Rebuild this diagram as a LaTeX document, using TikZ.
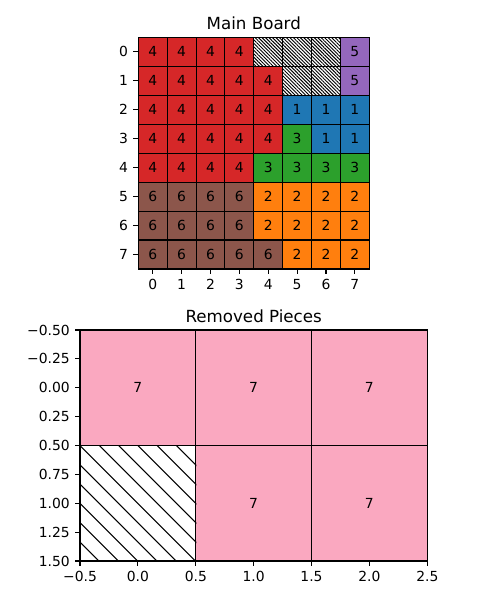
\documentclass[tikz,border=0pt]{standalone}
\usepackage{fontspec}
\setmainfont{DejaVu Sans}
\usetikzlibrary{patterns.meta}
\definecolor{piecered}{RGB}{214,39,40}
\definecolor{pieceblue}{RGB}{31,119,180}
\definecolor{piecegreen}{RGB}{44,160,44}
\definecolor{pieceorange}{RGB}{255,127,14}
\definecolor{piecepurple}{RGB}{148,103,189}
\definecolor{piecebrown}{RGB}{140,86,75}
\definecolor{piecepink}{RGB}{250,168,192}

\begin{document}
\begin{tikzpicture}[x=0.02cm, y=-0.02cm]
  \tikzset{
    cell/.style={
      draw,
      line width=0.6pt,
      minimum width=0.5775cm,
      minimum height=0.5792cm,
      inner sep=0pt,
      anchor=center,
      font=\fontsize{7.9}{9}\selectfont
    },
    piece1/.style={cell, fill=pieceblue},
    piece2/.style={cell, fill=pieceorange},
    piece3/.style={cell, fill=piecegreen},
    piece4/.style={cell, fill=piecered},
    piece5/.style={cell, fill=piecepurple},
    piece6/.style={cell, fill=piecebrown},
    empty/.style={
      cell,
      pattern={Lines[angle=-45, distance=1.4pt, line width=0.55pt]}
    },
    bigcell/.style={
      draw,
      line width=0.6pt,
      minimum width=2.3154cm,
      minimum height=2.31cm,
      inner sep=0pt,
      anchor=center,
      font=\fontsize{7.9}{9}\selectfont
    },
    removed/.style={bigcell, fill=piecepink},
    bigempty/.style={bigcell},
    hatch/.style={line width=0.6pt},
    spine/.style={line width=0.63pt},
    tick/.style={line width=0.63pt},
    ticklabel/.style={
      inner sep=0pt,
      font=\fontsize{7.9}{9}\selectfont
    },
    title/.style={
      inner sep=0pt,
      anchor=base,
      font=\fontsize{9.5}{11}\selectfont
    }
  }
  \useasboundingbox (0,0) rectangle (500,600);

  % Main board title
  \node[title] (maintitle) at (253.8, 29) {Main Board};

  % Row 0
  \node[piece4] at (152.74, 51.78) (cell00) {4};
  \node[piece4] at (181.61, 51.78) (cell01) {4};
  \node[piece4] at (210.49, 51.78) (cell02) {4};
  \node[piece4] at (239.36, 51.78) (cell03) {4};
  \node[empty]  at (268.24, 51.78) (cell04) {};
  \node[empty]  at (297.11, 51.78) (cell05) {};
  \node[empty]  at (325.99, 51.78) (cell06) {};
  \node[piece5] at (354.86, 51.78) (cell07) {5};
  % Row 1
  \node[piece4] at (152.74, 80.74) (cell10) {4};
  \node[piece4] at (181.61, 80.74) (cell11) {4};
  \node[piece4] at (210.49, 80.74) (cell12) {4};
  \node[piece4] at (239.36, 80.74) (cell13) {4};
  \node[piece4] at (268.24, 80.74) (cell14) {4};
  \node[empty]  at (297.11, 80.74) (cell15) {};
  \node[empty]  at (325.99, 80.74) (cell16) {};
  \node[piece5] at (354.86, 80.74) (cell17) {5};
  % Row 2
  \node[piece4] at (152.74, 109.7) (cell20) {4};
  \node[piece4] at (181.61, 109.7) (cell21) {4};
  \node[piece4] at (210.49, 109.7) (cell22) {4};
  \node[piece4] at (239.36, 109.7) (cell23) {4};
  \node[piece4] at (268.24, 109.7) (cell24) {4};
  \node[piece1] at (297.11, 109.7) (cell25) {1};
  \node[piece1] at (325.99, 109.7) (cell26) {1};
  \node[piece1] at (354.86, 109.7) (cell27) {1};
  % Row 3
  \node[piece4] at (152.74, 138.66) (cell30) {4};
  \node[piece4] at (181.61, 138.66) (cell31) {4};
  \node[piece4] at (210.49, 138.66) (cell32) {4};
  \node[piece4] at (239.36, 138.66) (cell33) {4};
  \node[piece4] at (268.24, 138.66) (cell34) {4};
  \node[piece3] at (297.11, 138.66) (cell35) {3};
  \node[piece1] at (325.99, 138.66) (cell36) {1};
  \node[piece1] at (354.86, 138.66) (cell37) {1};
  % Row 4
  \node[piece4] at (152.74, 167.62) (cell40) {4};
  \node[piece4] at (181.61, 167.62) (cell41) {4};
  \node[piece4] at (210.49, 167.62) (cell42) {4};
  \node[piece4] at (239.36, 167.62) (cell43) {4};
  \node[piece3] at (268.24, 167.62) (cell44) {3};
  \node[piece3] at (297.11, 167.62) (cell45) {3};
  \node[piece3] at (325.99, 167.62) (cell46) {3};
  \node[piece3] at (354.86, 167.62) (cell47) {3};
  % Row 5
  \node[piece6] at (152.74, 196.58) (cell50) {6};
  \node[piece6] at (181.61, 196.58) (cell51) {6};
  \node[piece6] at (210.49, 196.58) (cell52) {6};
  \node[piece6] at (239.36, 196.58) (cell53) {6};
  \node[piece2] at (268.24, 196.58) (cell54) {2};
  \node[piece2] at (297.11, 196.58) (cell55) {2};
  \node[piece2] at (325.99, 196.58) (cell56) {2};
  \node[piece2] at (354.86, 196.58) (cell57) {2};
  % Row 6
  \node[piece6] at (152.74, 225.54) (cell60) {6};
  \node[piece6] at (181.61, 225.54) (cell61) {6};
  \node[piece6] at (210.49, 225.54) (cell62) {6};
  \node[piece6] at (239.36, 225.54) (cell63) {6};
  \node[piece2] at (268.24, 225.54) (cell64) {2};
  \node[piece2] at (297.11, 225.54) (cell65) {2};
  \node[piece2] at (325.99, 225.54) (cell66) {2};
  \node[piece2] at (354.86, 225.54) (cell67) {2};
  % Row 7
  \node[piece6] at (152.74, 254.5) (cell70) {6};
  \node[piece6] at (181.61, 254.5) (cell71) {6};
  \node[piece6] at (210.49, 254.5) (cell72) {6};
  \node[piece6] at (239.36, 254.5) (cell73) {6};
  \node[piece6] at (268.24, 254.5) (cell74) {6};
  \node[piece2] at (297.11, 254.5) (cell75) {2};
  \node[piece2] at (325.99, 254.5) (cell76) {2};
  \node[piece2] at (354.86, 254.5) (cell77) {2};

  % Main board frame and ticks
  \draw[spine] (138.3, 37.3) rectangle (369.3, 269);
  \draw[tick] (138.3, 51.78) -- ++(-4.86, 0) node[ticklabel, left=0.0972cm] (rowlab0) {0};
  \draw[tick] (138.3, 80.74) -- ++(-4.86, 0) node[ticklabel, left=0.0972cm] (rowlab1) {1};
  \draw[tick] (138.3, 109.7) -- ++(-4.86, 0) node[ticklabel, left=0.0972cm] (rowlab2) {2};
  \draw[tick] (138.3, 138.66) -- ++(-4.86, 0) node[ticklabel, left=0.0972cm] (rowlab3) {3};
  \draw[tick] (138.3, 167.62) -- ++(-4.86, 0) node[ticklabel, left=0.0972cm] (rowlab4) {4};
  \draw[tick] (138.3, 196.58) -- ++(-4.86, 0) node[ticklabel, left=0.0972cm] (rowlab5) {5};
  \draw[tick] (138.3, 225.54) -- ++(-4.86, 0) node[ticklabel, left=0.0972cm] (rowlab6) {6};
  \draw[tick] (138.3, 254.5) -- ++(-4.86, 0) node[ticklabel, left=0.0972cm] (rowlab7) {7};
  \draw[tick] (152.74, 269) -- ++(0, 4.86) node[ticklabel, below=0.1cm] (collab0) {0};
  \draw[tick] (181.61, 269) -- ++(0, 4.86) node[ticklabel, below=0.1cm] (collab1) {1};
  \draw[tick] (210.49, 269) -- ++(0, 4.86) node[ticklabel, below=0.1cm] (collab2) {2};
  \draw[tick] (239.36, 269) -- ++(0, 4.86) node[ticklabel, below=0.1cm] (collab3) {3};
  \draw[tick] (268.24, 269) -- ++(0, 4.86) node[ticklabel, below=0.1cm] (collab4) {4};
  \draw[tick] (297.11, 269) -- ++(0, 4.86) node[ticklabel, below=0.1cm] (collab5) {5};
  \draw[tick] (325.99, 269) -- ++(0, 4.86) node[ticklabel, below=0.1cm] (collab6) {6};
  \draw[tick] (354.86, 269) -- ++(0, 4.86) node[ticklabel, below=0.1cm] (collab7) {7};

  % Removed pieces title
  \node[title] (removedtitle) at (253.7, 322) {Removed Pieces};

  % Removed pieces cells
  \node[removed]  at (137.9, 387.75) (rcell00) {7};
  \node[removed]  at (253.65, 387.75) (rcell01) {7};
  \node[removed]  at (369.4, 387.75) (rcell02) {7};
  \node[bigempty] at (137.9, 503.25) (rcell10) {};
  \node[removed]  at (253.65, 503.25) (rcell11) {7};
  \node[removed]  at (369.4, 503.25) (rcell12) {7};

  % Hatch lines of the empty removed cell
  \begin{scope}
    \clip (rcell10.north west) rectangle (rcell10.south east);
    \foreach \k in {-6,...,5}
      \draw[hatch] (80+19.3*\k, 445.5) -- ++(115.5, 115.5);
  \end{scope}

  % Removed pieces frame and ticks
  \draw[spine] (80, 330) rectangle (427.3, 561);
  \draw[tick] (80, 330) -- ++(-4.86, 0) node[ticklabel, left=0.0972cm] (ylab0) {−0.50};
  \draw[tick] (80, 358.9) -- ++(-4.86, 0) node[ticklabel, left=0.0972cm] (ylab1) {−0.25};
  \draw[tick] (80, 387.75) -- ++(-4.86, 0) node[ticklabel, left=0.0972cm] (ylab2) {0.00};
  \draw[tick] (80, 416.6) -- ++(-4.86, 0) node[ticklabel, left=0.0972cm] (ylab3) {0.25};
  \draw[tick] (80, 445.5) -- ++(-4.86, 0) node[ticklabel, left=0.0972cm] (ylab4) {0.50};
  \draw[tick] (80, 474.4) -- ++(-4.86, 0) node[ticklabel, left=0.0972cm] (ylab5) {0.75};
  \draw[tick] (80, 503.25) -- ++(-4.86, 0) node[ticklabel, left=0.0972cm] (ylab6) {1.00};
  \draw[tick] (80, 532.1) -- ++(-4.86, 0) node[ticklabel, left=0.0972cm] (ylab7) {1.25};
  \draw[tick] (80, 561) -- ++(-4.86, 0) node[ticklabel, left=0.0972cm] (ylab8) {1.50};
  \draw[tick] (80, 561) -- ++(0, 4.86) node[ticklabel, below=0.1cm] (xlab0) {−0.5};
  \draw[tick] (137.9, 561) -- ++(0, 4.86) node[ticklabel, below=0.1cm] (xlab1) {0.0};
  \draw[tick] (195.8, 561) -- ++(0, 4.86) node[ticklabel, below=0.1cm] (xlab2) {0.5};
  \draw[tick] (253.65, 561) -- ++(0, 4.86) node[ticklabel, below=0.1cm] (xlab3) {1.0};
  \draw[tick] (311.5, 561) -- ++(0, 4.86) node[ticklabel, below=0.1cm] (xlab4) {1.5};
  \draw[tick] (369.4, 561) -- ++(0, 4.86) node[ticklabel, below=0.1cm] (xlab5) {2.0};
  \draw[tick] (427.3, 561) -- ++(0, 4.86) node[ticklabel, below=0.1cm] (xlab6) {2.5};
\end{tikzpicture}
\end{document}
